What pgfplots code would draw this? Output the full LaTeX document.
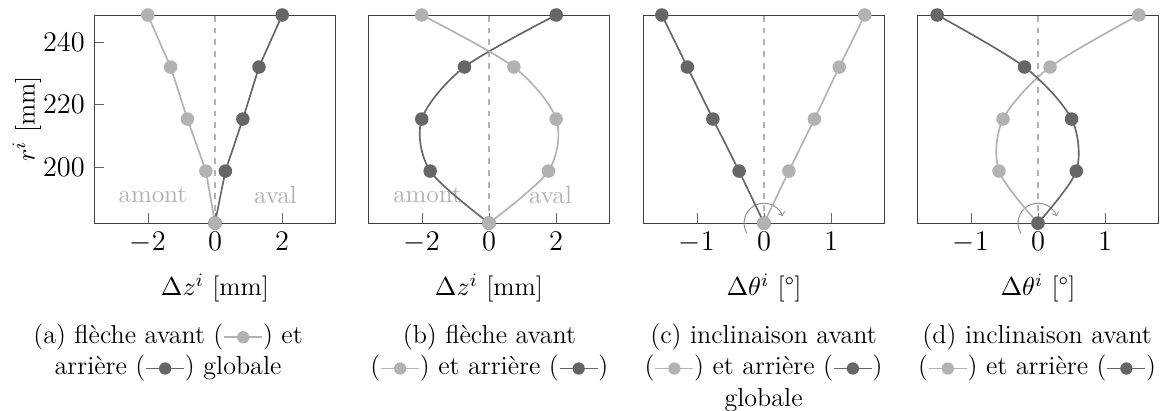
\documentclass[border=0pt]{standalone}
\usepackage{pgfplots}
\pgfplotsset{compat=1.18}
\definecolor{clight}{gray}{0.70}
\definecolor{cdark}{gray}{0.40}
\newcommand{\lgl}{\tikz[baseline=-2.7pt]{\draw[clight,line width=0.7pt] (0,0)--(16pt,0); \fill[clight] (8pt,0) circle (2.6pt);}}
\newcommand{\lgd}{\tikz[baseline=-2.7pt]{\draw[cdark,line width=0.7pt] (0,0)--(16pt,0); \fill[cdark] (8pt,0) circle (2.6pt);}}
\tikzset{lbl/.style={clight, font=\fontsize{10.5}{12}\selectfont}}
\pgfplotsset{
  myax/.style={scale only axis, width=102.1pt, height=87.8pt, anchor=north west,
    ymin=182, ymax=248.6, clip=false, tick pos=left,
    axis line style={black!75}, tick style={black!60},
    every tick label/.append style={font=\fontsize{12}{14}\selectfont},
    every axis x label/.style={at={(axis description cs:0.5,0)}, yshift=-27.4pt, anchor=center, font=\fontsize{11}{13}\selectfont},
    every axis y label/.style={at={(axis description cs:0,0.5)}, xshift=-28.3pt, rotate=90, anchor=center, font=\fontsize{11}{13}\selectfont},
    every axis plot/.append style={line width=0.7pt, mark=*, mark size=2.5pt}},
  lightp/.style={color=clight, mark options={solid, fill=clight, draw=clight}},
  darkp/.style={color=cdark, mark options={solid, fill=cdark, draw=cdark}},
  zeroline/.style={clight, line width=0.5pt, dash pattern=on 2.5pt off 2.5pt, no marks},
}
\begin{document}
\fontsize{11}{13.3}\selectfont
\begin{tikzpicture}
% (a)
\begin{axis}[myax, at={(39.66pt,-6.33pt)}, xmin=-3.6, xmax=3.6, xtick={-2,0,2},
  ytick={200,220,240}, ylabel={$r^i$ [mm]}, xlabel={$\Delta z^i$ [mm]}]
\addplot[zeroline] coordinates {(0,182) (0,248.6)};
\node[lbl] at (axis cs:-1.85,191) {amont};
\node[lbl] at (axis cs:1.8,191) {aval};
\addplot[darkp] coordinates {(2.0,248.6) (1.31,231.95) (0.83,215.3) (0.31,198.65) (0,182)};
\addplot[lightp] coordinates {(-2.0,248.6) (-1.32,231.95) (-0.82,215.3) (-0.27,198.65) (0,182)};
\end{axis}
% (b)
\begin{axis}[myax, at={(155.27pt,-6.33pt)}, xmin=-3.6, xmax=3.6, xtick={-2,0,2},
  ytick=\empty, xlabel={$\Delta z^i$ [mm]}]
\addplot[zeroline] coordinates {(0,182) (0,248.6)};
\node[lbl] at (axis cs:-1.83,191) {amont};
\node[lbl] at (axis cs:1.83,191) {aval};
\addplot[darkp, smooth] coordinates {(2.0,248.6) (-0.73,231.95) (-2.0,215.3) (-1.75,198.65) (0,182)};
\addplot[lightp, smooth] coordinates {(-2.0,248.6) (0.74,231.95) (2.0,215.3) (1.77,198.65) (0,182)};
\end{axis}
% (c)
\begin{axis}[myax, at={(271.31pt,-6.33pt)}, xmin=-1.8, xmax=1.8, xtick={-1,0,1},
  ytick=\empty, xlabel={$\Delta\theta^i$ [\textdegree]}]
\addplot[zeroline] coordinates {(0,182) (0,248.6)};
\draw[black!45, line width=0.4pt, ->] (axis cs:0,182) ++(210:8.4pt) arc[start angle=210, end angle=20, radius=8.4pt];
\addplot[darkp] coordinates {(-1.52,248.6) (-1.14,231.95) (-0.76,215.3) (-0.37,198.65) (0,182)};
\addplot[lightp] coordinates {(1.50,248.6) (1.12,231.95) (0.75,215.3) (0.37,198.65) (0,182)};
\end{axis}
% (d)
\begin{axis}[myax, at={(386.92pt,-6.33pt)}, xmin=-1.8, xmax=1.8, xtick={-1,0,1},
  ytick=\empty, xlabel={$\Delta\theta^i$ [\textdegree]}]
\addplot[zeroline] coordinates {(0,182) (0,248.6)};
\draw[black!45, line width=0.4pt, ->] (axis cs:0,182) ++(210:8.4pt) arc[start angle=210, end angle=20, radius=8.4pt];
\addplot[lightp, smooth] coordinates {(1.50,248.6) (0.18,231.95) (-0.52,215.3) (-0.58,198.65) (0,182)};
\addplot[darkp, smooth] coordinates {(-1.50,248.6) (-0.20,231.95) (0.50,215.3) (0.57,198.65) (0,182)};
\end{axis}
% captions
\begin{scope}[every node/.style={anchor=base, inner sep=0pt}]
\node at (70.9pt,-145pt) {(a) flèche avant (\lgl) et};
\node at (70.9pt,-158.2pt) {arrière (\lgd) globale};
\node at (206.5pt,-145pt) {(b) flèche avant};
\node at (206.5pt,-158.2pt) {(\lgl) et arrière (\lgd)};
\node at (322.2pt,-145pt) {(c) inclinaison avant};
\node at (322.2pt,-158.2pt) {(\lgl) et arrière (\lgd)};
\node at (322.2pt,-171.4pt) {globale};
\node at (437.6pt,-145pt) {(d) inclinaison avant};
\node at (437.6pt,-158.2pt) {(\lgl) et arrière (\lgd)};
\end{scope}
\pgfresetboundingbox
\useasboundingbox (0,0) rectangle (490.3pt,-173.4pt);
\end{tikzpicture}
\end{document}
